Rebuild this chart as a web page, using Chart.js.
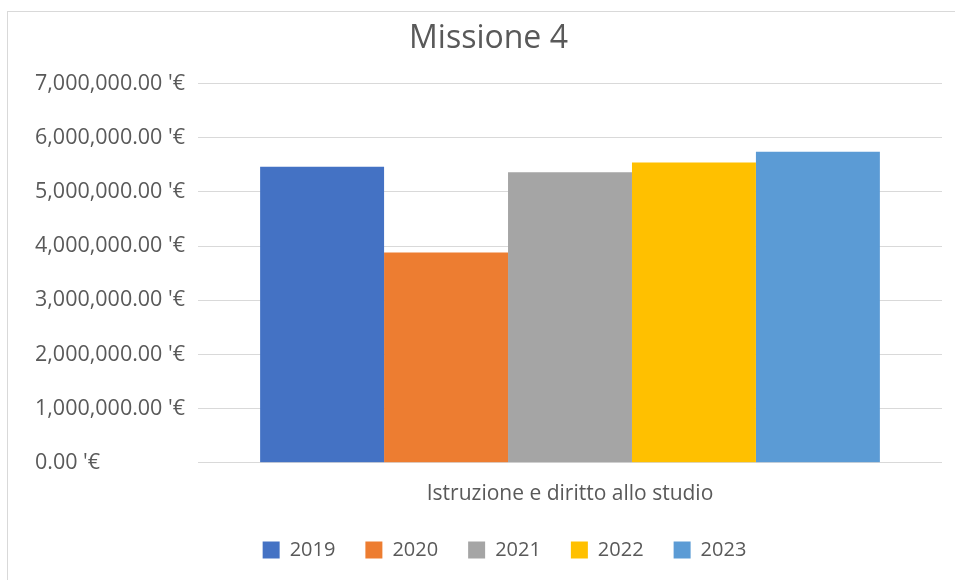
<!DOCTYPE html>
<html>
<head>
<meta charset="utf-8">
<script src="https://cdn.jsdelivr.net/npm/chart.js@4.4.0/dist/chart.umd.min.js"></script>
<style>
  html, body { margin: 0; padding: 0; background: #ffffff; }
  #wrap { position: relative; width: 955px; height: 580px; overflow: hidden; }
  #frame { position: absolute; left: 7px; top: 11px; width: 1000px; height: 700px;
           border-top: 1px solid #d9d9d9; border-left: 1px solid #d9d9d9; pointer-events: none; }
  canvas { position: absolute; left: 0; top: 0; }
</style>
</head>
<body>
<div id="wrap">
  <canvas id="c" width="955" height="580"></canvas>
  <div id="frame"></div>
</div>
<script>
const chartTitle = "Missione 4";
const categories = ["Istruzione e diritto allo studio"];
const years = ["2019", "2020", "2021", "2022", "2023"];
const values2019 = [5460000];
const values2020 = [3880000];
const values2021 = [5360000];
const values2022 = [5540000];
const values2023 = [5740000];
const colors = ["#4472c4", "#ed7d31", "#a5a5a5", "#ffc000", "#5b9bd5"];
const yMin = 0;
const yMax = 7000000;
const yStep = 1000000;
const yTickSuffix = " '€";

const seriesValues = [values2019, values2020, values2021, values2022, values2023];
const FONT = "'Open Sans', 'Noto Sans', sans-serif";
const TEXT = "#595959";

// nudges the legend block to where the reference places it
const legendShift = {
  id: "legendShift",
  afterLayout(chart) {
    const lg = chart.legend;
    if (!lg) return;
    lg.left += 16; lg.right += 16;
    lg.top -= 16; lg.bottom -= 16;
  }
};

new Chart(document.getElementById("c"), {
  type: "bar",
  data: {
    labels: categories,
    datasets: years.map((y, i) => ({
      label: y,
      data: seriesValues[i],
      backgroundColor: colors[i],
      borderWidth: 0
    }))
  },
  options: {
    responsive: false,
    animation: false,
    devicePixelRatio: 1,
    layout: { padding: { left: 35, right: 13, top: 0, bottom: -6 } },
    datasets: { bar: { categoryPercentage: 0.833, barPercentage: 1.0 } },
    scales: {
      x: {
        grid: { display: false, drawTicks: false },
        border: { display: false },
        ticks: { color: TEXT, font: { family: FONT, size: 21 }, padding: 19 }
      },
      y: {
        min: yMin, max: yMax,
        grid: { color: "#d9d9d9", lineWidth: 1, drawTicks: false },
        border: { display: false },
        ticks: {
          stepSize: yStep,
          color: TEXT,
          font: { family: FONT, size: 21.5 },
          padding: 13,
          crossAlign: "far",
          callback: v => Number(v).toLocaleString("en-US", { minimumFractionDigits: 2, maximumFractionDigits: 2 }) + yTickSuffix
        },
        afterFit: s => { s.width = 163; }
      }
    },
    plugins: {
      title: {
        display: true, text: chartTitle, color: TEXT,
        font: { family: FONT, size: 32, weight: "normal" },
        padding: { top: 20, bottom: 25 }
      },
      legend: {
        position: "bottom",
        labels: {
          color: TEXT, font: { family: FONT, size: 20 },
          boxWidth: 17, boxHeight: 17, padding: 30
        }
      },
      tooltip: { enabled: false }
    }
  },
  plugins: [legendShift]
});
</script>
</body>
</html>
